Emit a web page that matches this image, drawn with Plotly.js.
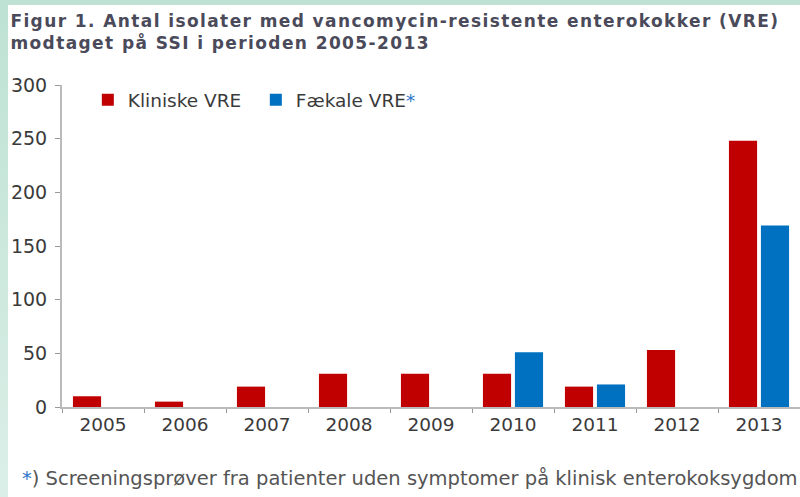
<!DOCTYPE html>
<html><head><meta charset="utf-8">
<script src="https://cdn.plot.ly/plotly-3.0.1.min.js"></script>
<style>
html,body{margin:0;padding:0;width:800px;height:497px;overflow:hidden;}
body{background:linear-gradient(180deg,#bde2d4 0%,#cfe9df 60%,#dbefe8 100%);position:relative;}
#chart{position:absolute;left:8px;top:5px;width:792px;height:492px;background:#fff;}
#chart .gtitle{letter-spacing:1.4px;}
</style></head>
<body><div id="chart"></div>
<script>
const years = ['2005','2006','2007','2008','2009','2010','2011','2012','2013'];
const kliniske = [10, 5, 19, 31, 31, 31, 19, 53, 248];
const faekale = [null, null, null, null, null, 51, 21, null, 169];
const yTicks = [0, 50, 100, 150, 200, 250, 300];
const titleLines = ['Figur 1. Antal isolater med vancomycin-resistente enterokokker (VRE)', 'modtaget på SSI i perioden 2005-2013'];
const footnote = '<span style="color:#2e75c8">*</span>) Screeningsprøver fra patienter uden symptomer på klinisk enterokoksygdom';

const font = 'DejaVu Sans, Verdana, sans-serif';
const data = [
  {type:'bar', name:'Kliniske VRE', x:years, y:kliniske, marker:{color:'#c00000'}},
  {type:'bar', name:'Fækale VRE<span style="color:#2e75c8">*</span>', x:years, y:faekale, marker:{color:'#0070c0'}}
];
const layout = {
  width:792, height:492,
  margin:{l:54, r:0, t:80, b:90},
  paper_bgcolor:'#ffffff', plot_bgcolor:'#ffffff',
  barmode:'group', bargap:0.22, bargroupgap:0.12,
  showlegend:true,
  legend:{orientation:'h', x:0.035, xanchor:'left', y:0.953, yanchor:'middle',
    font:{family:font, size:18.5, color:'#3a3a3a'}, bgcolor:'rgba(0,0,0,0)', entrywidth:123, itemwidth:20},
  title:{text:titleLines.join('<br>'), xref:'container', x:0.003, xanchor:'left',
    yref:'container', y:0.955, yanchor:'middle',
    font:{family:font, size:17, color:'#4a4a5a', weight:'bold'}},
  xaxis:{type:'category', tickson:'boundaries', ticks:'outside', ticklen:4, tickcolor:'#999',
    showline:true, linecolor:'#bbb', linewidth:2, showgrid:false, zeroline:false,
    tickfont:{family:font, size:18.5, color:'#3a3a3a'}, range:[-0.5, 8.5]},
  yaxis:{range:[0,300], tickvals:yTicks, ticks:'outside', ticklen:5, tickcolor:'#999',
    showline:true, linecolor:'#bbb', linewidth:2, showgrid:false, zeroline:false,
    tickfont:{family:font, size:19, color:'#3a3a3a'}, ticklabelstandoff:4},
  annotations:[{text:footnote, xref:'paper', yref:'paper', x:-0.057, y:-0.222,
    xanchor:'left', yanchor:'middle', showarrow:false,
    font:{family:font, size:19.5, color:'#555'}}]
};
Plotly.newPlot('chart', data, layout, {displayModeBar:false, staticPlot:true});
</script></body></html>
